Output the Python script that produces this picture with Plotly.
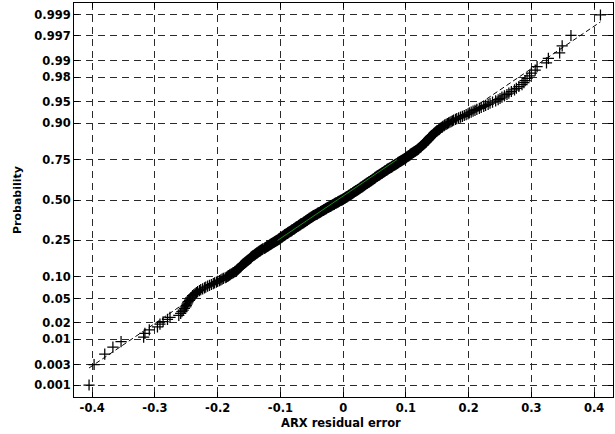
import plotly.graph_objects as go
from statistics import NormalDist

# ---- data (sorted residuals, n = 500) ----
lower_tail = [-0.405, -0.397, -0.380, -0.367, -0.354, -0.318, -0.316, -0.309, -0.296, -0.292,
              -0.287, -0.280, -0.276, -0.262]
lower_band = [-0.259, -0.257, -0.255, -0.253, -0.251, -0.250,
              -0.249, -0.248, -0.247, -0.245, -0.244,
              -0.243, -0.241, -0.240, -0.238, -0.236,
              -0.234, -0.232, -0.229, -0.227, -0.224,
              -0.221, -0.219, -0.216, -0.213, -0.210,
              -0.207, -0.205, -0.202, -0.200, -0.197,
              -0.195, -0.193, -0.191, -0.188, -0.186]
lower_knee = [-0.184, -0.183, -0.181, -0.180, -0.178,
              -0.176, -0.175, -0.173, -0.172, -0.170,
              -0.169, -0.168, -0.167, -0.166, -0.165,
              -0.164, -0.163, -0.163, -0.162, -0.161,
              -0.160, -0.159, -0.158, -0.157, -0.156,
              -0.155, -0.154, -0.153, -0.152, -0.151,
              -0.150, -0.149, -0.148, -0.147, -0.147, -0.146, -0.145, -0.144, -0.143, -0.142,
              -0.141, -0.140, -0.139, -0.138, -0.137, -0.136, -0.135, -0.134, -0.133, -0.132]
lower_mid = [-0.131, -0.130, -0.129, -0.128, -0.126, -0.125, -0.124, -0.123, -0.122, -0.121,
             -0.120, -0.119, -0.118, -0.117, -0.116, -0.115, -0.114, -0.113, -0.112, -0.111,
             -0.110, -0.109, -0.108, -0.107, -0.106,
             -0.105, -0.104, -0.103, -0.102, -0.102, -0.101, -0.100, -0.099, -0.098, -0.097,
             -0.097, -0.096,
             -0.095, -0.094, -0.093, -0.093, -0.092, -0.091, -0.090, -0.089, -0.088, -0.088,
             -0.087, -0.086, -0.085,
             -0.084, -0.083, -0.082, -0.082, -0.081,
             -0.080, -0.079, -0.078, -0.078, -0.077,
             -0.076, -0.075, -0.075, -0.074, -0.073,
             -0.072, -0.071, -0.071, -0.070, -0.069,
             -0.068, -0.068, -0.067, -0.066, -0.065,
             -0.064, -0.063, -0.063, -0.062, -0.061,
             -0.060, -0.060, -0.059, -0.058, -0.057,
             -0.057, -0.056, -0.055, -0.054, -0.054,
             -0.053, -0.052, -0.051, -0.051, -0.050,
             -0.049, -0.048, -0.048, -0.047, -0.046,
             -0.045, -0.044, -0.043, -0.042, -0.041,
             -0.041, -0.040, -0.039, -0.038, -0.037,
             -0.036, -0.036, -0.035, -0.034, -0.033,
             -0.032, -0.031, -0.031, -0.030, -0.029,
             -0.028, -0.027, -0.027, -0.026, -0.025,
             -0.024, -0.023, -0.022, -0.021, -0.020,
             -0.020, -0.019, -0.018, -0.017, -0.016,
             -0.015, -0.014, -0.014, -0.013, -0.012,
             -0.011, -0.010, -0.009, -0.008, -0.008,
             -0.007, -0.006, -0.005, -0.004, -0.003]
upper_mid = [-0.002, -0.001, 0.000, 0.000, 0.001,
             0.002, 0.003, 0.003, 0.004, 0.005,
             0.006, 0.006, 0.007, 0.008, 0.009,
             0.009, 0.010, 0.011, 0.012, 0.012,
             0.013, 0.014, 0.015, 0.015, 0.016,
             0.017, 0.017, 0.018, 0.019, 0.020,
             0.020, 0.021, 0.022, 0.023, 0.023,
             0.024, 0.025, 0.026, 0.026, 0.027,
             0.028, 0.028, 0.029, 0.030, 0.031,
             0.031, 0.032, 0.033, 0.033, 0.034,
             0.035, 0.035, 0.036, 0.037, 0.038,
             0.038, 0.039, 0.040, 0.041, 0.041,
             0.042, 0.043, 0.044, 0.044, 0.045,
             0.046, 0.047, 0.047, 0.048, 0.049,
             0.050, 0.050, 0.051, 0.051, 0.052,
             0.053, 0.054, 0.054, 0.055, 0.056,
             0.057, 0.058, 0.058, 0.059, 0.060,
             0.061, 0.062, 0.062, 0.063, 0.064,
             0.065, 0.066, 0.066, 0.067, 0.068,
             0.069, 0.070, 0.070, 0.071, 0.072,
             0.073, 0.074, 0.075, 0.076, 0.077,
             0.078, 0.078, 0.079, 0.080, 0.081,
             0.082, 0.083, 0.084, 0.085, 0.086,
             0.087, 0.087, 0.088, 0.089, 0.090,
             0.091, 0.092, 0.093, 0.094, 0.095,
             0.096, 0.097, 0.098, 0.099, 0.100,
             0.100, 0.101, 0.102, 0.103, 0.104,
             0.105, 0.106, 0.107, 0.107, 0.108,
             0.109, 0.110, 0.111, 0.112, 0.113,
             0.114, 0.115, 0.116, 0.117, 0.118]
upper_band = [0.119, 0.120, 0.120, 0.121, 0.122, 0.123, 0.124, 0.124, 0.125, 0.126,
              0.127, 0.128, 0.128, 0.129, 0.130, 0.131, 0.132, 0.132, 0.133, 0.134,
              0.135, 0.135, 0.136, 0.137, 0.137, 0.138, 0.139, 0.139, 0.140, 0.141,
              0.142, 0.143, 0.144, 0.145, 0.146, 0.147, 0.148, 0.149, 0.150, 0.152,
              0.153, 0.154, 0.155, 0.157, 0.158, 0.159, 0.161, 0.162, 0.164, 0.166,
              0.168, 0.170, 0.172, 0.174, 0.176, 0.179, 0.181, 0.184, 0.187, 0.190,
              0.193, 0.196, 0.199, 0.201, 0.204, 0.207, 0.210, 0.213, 0.217, 0.220,
              0.224, 0.227, 0.231, 0.234, 0.238]
upper_tail = [0.243, 0.247, 0.250, 0.253, 0.257, 0.261, 0.264, 0.268, 0.273, 0.276,
              0.280, 0.285, 0.288, 0.290, 0.293, 0.297, 0.300, 0.306, 0.309, 0.324,
              0.327, 0.345, 0.349, 0.363, 0.410]

# reference (fitted normal) line
ref_mu = -0.0094
ref_sigma = 0.141

prob_ticks = [0.001, 0.003, 0.01, 0.02, 0.05, 0.10, 0.25, 0.50, 0.75, 0.90, 0.95, 0.98, 0.99, 0.997, 0.999]
prob_labels = ["0.001", "0.003", "0.01", "0.02", "0.05", "0.10", "0.25", "0.50", "0.75", "0.90",
               "0.95", "0.98", "0.99", "0.997", "0.999"]
x_ticks = [-0.4, -0.3, -0.2, -0.1, 0, 0.1, 0.2, 0.3, 0.4]
x_labels = ["-0.4", "-0.3", "-0.2", "-0.1", "0", "0.1", "0.2", "0.3", "0.4"]

# ---- build figure ----
nd = NormalDist()
residuals = lower_tail + lower_band + lower_knee + lower_mid + upper_mid + upper_band + upper_tail
n = len(residuals)
zq = [nd.inv_cdf((i + 0.5) / n) for i in range(n)]

xmin, xmax = min(residuals), max(residuals)
ext_x = [xmin, xmax]
ext_z = [(v - ref_mu) / ref_sigma for v in ext_x]
q_z = [nd.inv_cdf(0.25), nd.inv_cdf(0.75)]
q_x = [ref_mu + zz * ref_sigma for zz in q_z]

FONT = "DejaVu Sans"

fig = go.Figure()
fig.add_trace(go.Scatter(
    x=residuals, y=zq, mode="markers",
    marker=dict(symbol="cross-thin", size=8, color="black",
                line=dict(color="black", width=1.25)),
    showlegend=False, hoverinfo="skip", cliponaxis=False))
fig.add_trace(go.Scatter(
    x=ext_x, y=ext_z, mode="lines",
    line=dict(color="black", width=1, dash="5px,3px"),
    showlegend=False, hoverinfo="skip"))
fig.add_trace(go.Scatter(
    x=q_x, y=q_z, mode="lines",
    line=dict(color="#1a8c1a", width=1),
    showlegend=False, hoverinfo="skip"))

ylim = nd.inv_cdf(0.25 / n)

axis_common = dict(
    showline=True, linecolor="black", linewidth=1, mirror="ticks",
    ticks="inside", ticklen=5, tickcolor="black", tickwidth=1,
    showgrid=True, gridcolor="#2a2a2a", gridwidth=1, griddash="7px,5px",
    zeroline=False, automargin=False,
    tickfont=dict(family=FONT, size=11.5, color="black", weight="bold"),
)

fig.update_layout(
    width=615, height=434,
    margin=dict(l=74, r=2, t=3, b=37),
    paper_bgcolor="white", plot_bgcolor="white",
    xaxis=dict(range=[-0.429, 0.430], tickvals=x_ticks, ticktext=x_labels, **axis_common),
    yaxis=dict(range=[ylim, -ylim], tickvals=[nd.inv_cdf(p) for p in prob_ticks],
               ticktext=prob_labels, **axis_common),
    annotations=[
        dict(text="ARX residual error", xref="paper", yref="paper", x=0.495, y=-0.065,
             xanchor="center", yanchor="middle", showarrow=False,
             font=dict(family=FONT, size=11.5, color="black", weight="bold")),
        dict(text="Probability", xref="paper", yref="paper", x=-0.1058, y=0.5,
             xanchor="center", yanchor="middle", showarrow=False, textangle=-90,
             font=dict(family=FONT, size=11, color="black", weight="bold")),
    ],
)

fig.write_html(
    "out.html",
    config={"displayModeBar": False},
    post_script="document.body.style.margin='0';document.body.style.overflow='hidden';",
)
